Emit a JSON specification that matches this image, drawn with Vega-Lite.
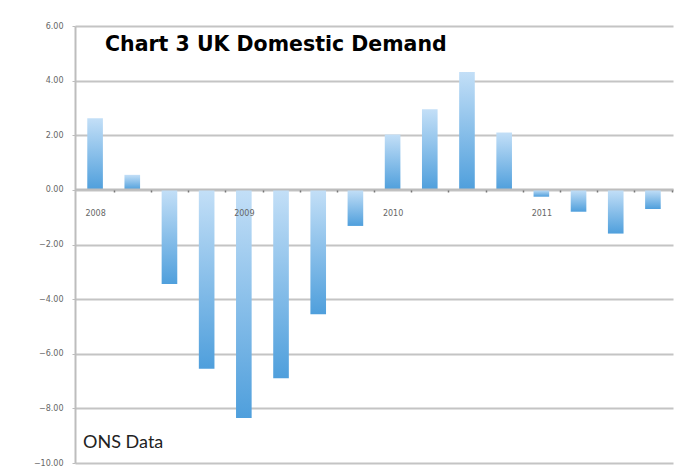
{
  "$schema": "https://vega.github.io/schema/vega-lite/v6.json",
  "autosize": "none",
  "width": 598,
  "height": 437,
  "padding": {"left": 75, "top": 26, "right": 7, "bottom": 12},
  "background": "white",
  "title": {
    "text": "Chart 3 UK Domestic Demand",
    "anchor": "start",
    "frame": "group",
    "orient": "top",
    "font": "DejaVu Sans",
    "fontWeight": "bold",
    "fontSize": 20.5,
    "color": "#000000",
    "dx": 30,
    "dy": 33,
    "offset": 0
  },
  "data": {
    "values": [
      {"q": "2008 Q1", "v": 2.62},
      {"q": "2008 Q2", "v": 0.55},
      {"q": "2008 Q3", "v": -3.45},
      {"q": "2008 Q4", "v": -6.55},
      {"q": "2009 Q1", "v": -8.35},
      {"q": "2009 Q2", "v": -6.9},
      {"q": "2009 Q3", "v": -4.55},
      {"q": "2009 Q4", "v": -1.32},
      {"q": "2010 Q1", "v": 2.03},
      {"q": "2010 Q2", "v": 2.95},
      {"q": "2010 Q3", "v": 4.32},
      {"q": "2010 Q4", "v": 2.1},
      {"q": "2011 Q1", "v": -0.25},
      {"q": "2011 Q2", "v": -0.8},
      {"q": "2011 Q3", "v": -1.6},
      {"q": "2011 Q4", "v": -0.7}
    ]
  },
  "layer": [
    {
      "mark": {
        "type": "bar",
        "color": {
          "gradient": "linear",
          "x1": 0, "y1": 0, "x2": 0, "y2": 1,
          "stops": [
            {"offset": 0, "color": "#c3dff7"},
            {"offset": 1, "color": "#4f9fdc"}
          ]
        }
      },
      "encoding": {
        "x": {
          "field": "q",
          "type": "nominal",
          "sort": null,
          "scale": {"paddingInner": 0.58, "paddingOuter": 0.33},
          "axis": {
            "title": null,
            "orient": "bottom",
            "offset": -274,
            "zindex": 1,
            "labelExpr": "slice(datum.value, 5) == 'Q1' ? slice(datum.value, 0, 4) : ''",
            "labelAngle": 0,
            "labelFont": "DejaVu Sans",
            "labelFontSize": 8,
            "labelColor": "#666666",
            "labelPadding": 17,
            "tickOffset": 18.7,
            "labelOffset": -18.7,
            "tickSize": 3,
            "tickColor": "#777777",
            "tickWidth": 1.5,
            "domainColor": "#bdbdbd",
            "domainWidth": 2,
            "grid": false
          }
        },
        "y": {
          "field": "v",
          "type": "quantitative",
          "scale": {"domain": [-10, 6], "nice": false, "zero": false},
          "axis": {
            "title": null,
            "values": [-10, -8, -6, -4, -2, 0, 2, 4, 6],
            "format": ".2f",
            "labelFont": "DejaVu Sans",
            "labelFontSize": 8,
            "labelColor": "#666666",
            "labelPadding": 9,
            "tickSize": 3,
            "tickColor": "#bdbdbd",
            "domainColor": "#bdbdbd",
            "domainWidth": 2,
            "grid": true,
            "gridColor": "#c4c4c4",
            "gridWidth": 2
          }
        }
      }
    },
    {
      "data": {"values": [{"q": "2008 Q1", "v": -9.25, "t": "ONS Data"}]},
      "mark": {"type": "text", "align": "left", "baseline": "middle", "dx": -12, "font": "Lato", "fontSize": 18, "color": "#222222"},
      "encoding": {
        "x": {"field": "q", "type": "nominal"},
        "y": {"field": "v", "type": "quantitative"},
        "text": {"field": "t"}
      }
    }
  ],
  "config": {"view": {"stroke": null}}
}
